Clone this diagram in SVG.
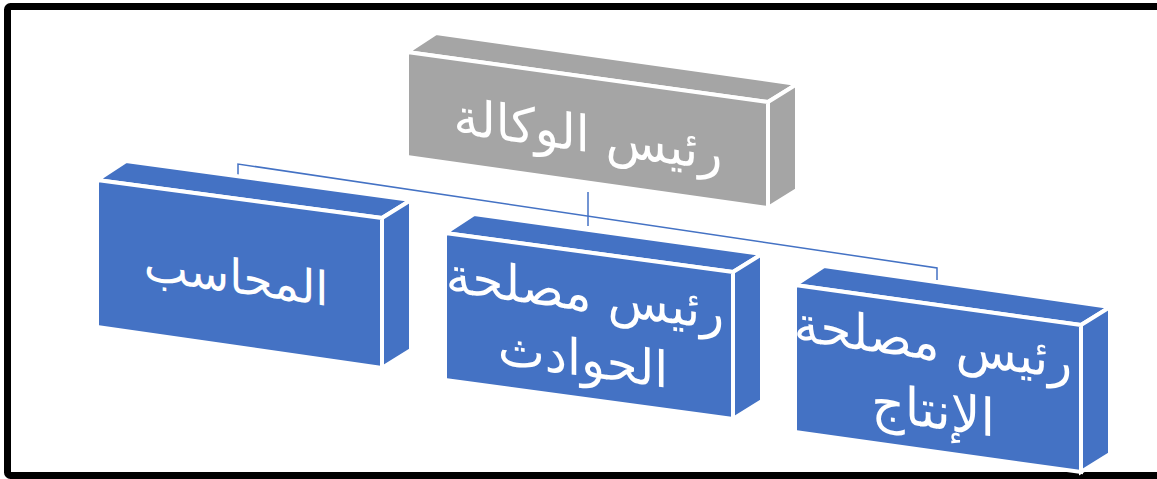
<svg xmlns="http://www.w3.org/2000/svg" width="1157" height="479" viewBox="0 0 1157 479">
<style>
.blue{fill:#4472C4;stroke:#FFFFFF;stroke-width:4;stroke-linejoin:miter}
.grey{fill:#A5A5A5;stroke:#FFFFFF;stroke-width:4;stroke-linejoin:miter}
.lbl{font-family:"DejaVu Sans",sans-serif;fill:#FFFFFF;text-anchor:middle}
.conn{fill:none;stroke:#4472C4;stroke-width:1.5}
</style>
<rect x="0" y="0" width="1157" height="479" fill="#FFFFFF"/>
<rect x="7.5" y="6.5" width="1154" height="469" rx="3" fill="none" stroke="#000000" stroke-width="7"/>
<g id="connectors">
<polyline class="conn" points="238,176 238,164 937,268 937,280"/>
<line class="conn" x1="588" y1="192" x2="588" y2="226"/>
</g>
<g id="node-head">
<polygon class="grey" points="407,52 436,33 797,84 768,102"/>
<polygon class="grey" points="768,102 797,84 797,190 768,208"/>
<polygon class="grey" points="407,52 768,102 768,208 407,157"/>
<text class="lbl" font-size="50" transform="translate(588,152) skewY(8)">رئيس الوكالة</text>
</g>
<g id="node-accountant">
<polygon class="blue" points="97,180 126,161 411,200 382,218"/>
<polygon class="blue" points="382,218 411,200 411,350 382,368"/>
<polygon class="blue" points="97,180 382,218 382,368 97,327"/>
<text class="lbl" font-size="47" transform="translate(236,293) skewY(8)">المحاسب</text>
</g>
<g id="node-accidents">
<polygon class="blue" points="445,233 474,214 762,254 733,272"/>
<polygon class="blue" points="733,272 762,254 762,401 733,419"/>
<polygon class="blue" points="445,233 733,272 733,419 445,380"/>
<text class="lbl" font-size="50" transform="translate(585,311) skewY(8)">رئيس مصلحة</text>
<text class="lbl" font-size="50" transform="translate(583,376) skewY(8)">الحوادث</text>
</g>
<g id="node-production">
<polygon class="blue" points="795,285 824,266 1110,307 1081,325"/>
<polygon class="blue" points="1081,325 1110,307 1110,454 1081,472"/>
<polygon class="blue" points="795,285 1081,325 1081,472 795,432"/>
<text class="lbl" font-size="50" transform="translate(933,360) skewY(8)">رئيس مصلحة</text>
<text class="lbl" font-size="52" transform="translate(933,428) skewY(8)">الإنتاج</text>
</g>
</svg>
